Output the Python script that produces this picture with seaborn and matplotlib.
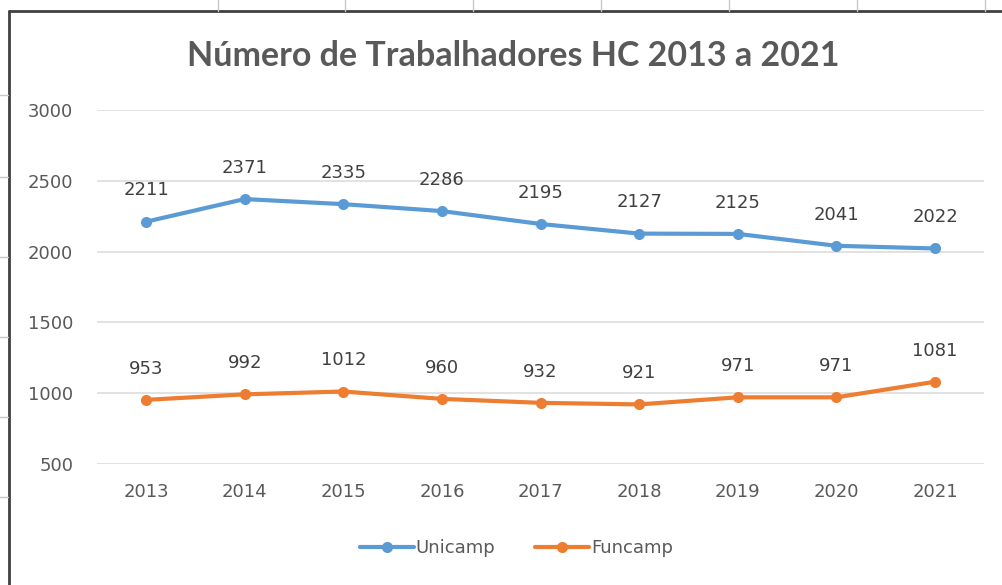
import matplotlib

matplotlib.use("Agg")
import matplotlib.pyplot as plt
from matplotlib.lines import Line2D
import pandas as pd
import seaborn as sns

years = ["2013", "2014", "2015", "2016", "2017", "2018", "2019", "2020", "2021"]
unicamp = [2211, 2371, 2335, 2286, 2195, 2127, 2125, 2041, 2022]
funcamp = [953, 992, 1012, 960, 932, 921, 971, 971, 1081]
yticks = [500, 1000, 1500, 2000, 2500, 3000]
title = "Número de Trabalhadores HC 2013 a 2021"

df = pd.DataFrame(
    {
        "ano": years * 2,
        "valor": unicamp + funcamp,
        "serie": ["Unicamp"] * len(years) + ["Funcamp"] * len(years),
    }
)
palette = {"Unicamp": "#5B9BD5", "Funcamp": "#ED7D31"}

sns.set_style("white")
plt.rcParams["font.family"] = ["DejaVu Sans"]

fig = plt.figure(figsize=(10.03, 5.85), dpi=100)
ax = fig.add_axes([0.0964, 0.2068, 0.885, 0.6052])

sns.lineplot(
    data=df,
    x="ano",
    y="valor",
    hue="serie",
    palette=palette,
    marker="o",
    markersize=8,
    markeredgewidth=0,
    linewidth=3,
    legend=False,
    ax=ax,
    zorder=3,
)

for name, vals in [("Unicamp", unicamp), ("Funcamp", funcamp)]:
    for i, v in enumerate(vals):
        ax.annotate(
            str(v),
            (i, v),
            xytext=(0, 16),
            textcoords="offset points",
            ha="center",
            va="bottom",
            fontsize=13,
            color="#404040",
        )

ax.set_xlim(-0.5, len(years) - 0.5)
ax.set_ylim(500, 3000)
ax.set_yticks(yticks)
ax.yaxis.grid(True, color="#DDDDDD", linewidth=1.2)
ax.set_axisbelow(True)
for s in ax.spines.values():
    s.set_visible(False)
ax.tick_params(axis="both", length=0, labelsize=13, labelcolor="#595959")
ax.tick_params(axis="y", pad=17)
ax.tick_params(axis="x", pad=14)
ax.set_xlabel("")
ax.set_ylabel("")

fig.text(
    0.512, 0.905, title, ha="center", va="center",
    fontsize=24.5, fontweight="bold", color="#595959", family=["Lato", "DejaVu Sans"],
)

handles = [
    Line2D([], [], color=palette[k], marker="o", markersize=8, linewidth=3,
           markeredgewidth=0)
    for k in ["Unicamp", "Funcamp"]
]
fig.legend(
    handles, ["Unicamp", "Funcamp"], loc="center", bbox_to_anchor=(0.515, 0.063),
    ncol=2, frameon=False, fontsize=13, handlelength=3.0, handletextpad=0.1,
    columnspacing=2.2, labelcolor="#595959",
)

# spreadsheet frame around the chart object
fig.add_artist(Line2D([0.009, 1.0], [0.981, 0.981], color="#404040", linewidth=2))
fig.add_artist(Line2D([0.009, 0.009], [0.0, 0.981], color="#404040", linewidth=2))
for x in [218, 345, 473, 601, 729, 857, 985]:
    fig.add_artist(Line2D([x / 1003, x / 1003], [0.981, 1.0], color="#C8C8C8", linewidth=1))
for y in [95, 177, 257, 337, 417, 497]:
    fig.add_artist(Line2D([0.0, 0.008], [1 - y / 585, 1 - y / 585], color="#C8C8C8", linewidth=1))

fig.savefig("out.png", dpi=100, facecolor="white")
